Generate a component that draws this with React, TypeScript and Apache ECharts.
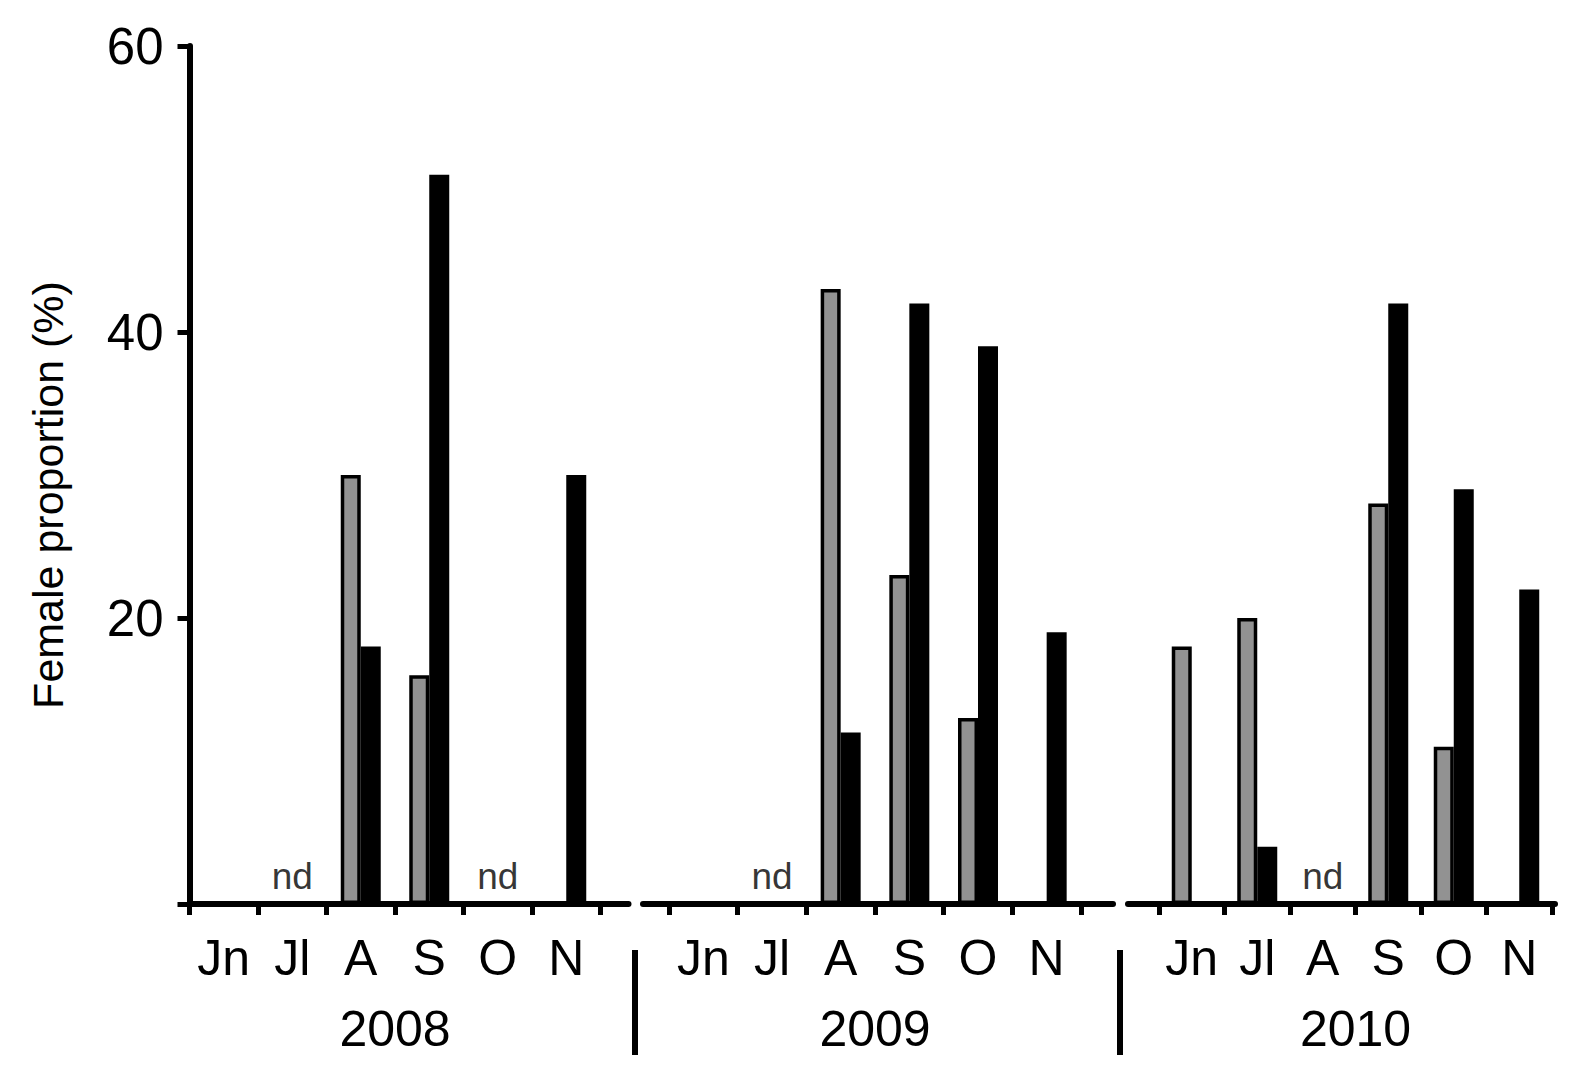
import React, { useEffect, useRef } from "react";
import * as echarts from "echarts";

// ---- data ----
const months = ["Jn", "Jl", "A", "S", "O", "N"];
const years = ["2008", "2009", "2010"];
const gray2008 = [null, null, 30, 16, null, null];
const black2008 = [null, null, 18, 51, null, 30];
const gray2009 = [null, null, 43, 23, 13, null];
const black2009 = [null, null, 12, 42, 39, 19];
const gray2010 = [18, 20, null, 28, 11, null];
const black2010 = [null, 4, null, 42, 29, 22];
const nd2008 = ["Jl", "O"];
const nd2009 = ["Jl"];
const nd2010 = ["A"];
const yTicks = [0, 20, 40, 60];

const grays = [gray2008, gray2009, gray2010];
const blacks = [black2008, black2009, black2010];
const nds = [nd2008, nd2009, nd2010];

// ---- layout ----
const W = 1575;
const H = 1072;
const TOP = 46;
const BASE = 904;
const AXW = 6;
const TKW = 5;
const panels = [
  { left: 189.5, width: 411, extL: 0, extR: 28 },
  { left: 669, width: 412, extL: 26, extR: 32 },
  { left: 1159, width: 393, extL: 31, extR: 3 },
];
const separators = [635, 1120];
const FONT = '"Liberation Sans", Arial, Helvetica, sans-serif';

export default function App() {
  const ref = useRef<HTMLDivElement>(null);
  useEffect(() => {
    if (!ref.current) return;
    const chart = echarts.init(ref.current, undefined, { renderer: "svg" });

    const grid: any[] = panels.map((p) => ({
      left: p.left,
      width: p.width,
      top: TOP,
      bottom: H - BASE,
      containLabel: false,
    }));
    // helper grids: full-length baseline of each panel
    panels.forEach((p) => {
      grid.push({
        left: p.left - p.extL,
        width: p.width + p.extL + p.extR,
        top: TOP,
        bottom: H - BASE,
        containLabel: false,
      });
    });

    const xAxis: any[] = panels.map((p, i) => ({
      type: "category",
      gridIndex: i,
      data: months,
      boundaryGap: true,
      name: years[i],
      nameLocation: "middle",
      nameGap: 100,
      nameTextStyle: { fontSize: 50, fontFamily: FONT, color: "#000" },
      axisLine: { show: true, lineStyle: { color: "#000", width: AXW } },
      axisTick: { show: true, interval: 0, length: 11, lineStyle: { color: "#000", width: TKW } },
      axisLabel: {
        show: true,
        interval: 0,
        margin: 29,
        fontSize: 50,
        fontFamily: FONT,
        color: "#000",
      },
      splitLine: { show: false },
      z: 3,
    }));
    panels.forEach((p, i) => {
      xAxis.push({
        type: "value",
        gridIndex: 3 + i,
        min: 0,
        max: 1,
        axisLine: { show: true, lineStyle: { color: "#000", width: AXW } },
        axisTick: { show: false },
        axisLabel: { show: false },
        splitLine: { show: false },
        z: 1,
      });
    });

    const yAxis: any[] = panels.map((p, i) => ({
      type: "value",
      gridIndex: i,
      min: 0,
      max: 60,
      interval: 20,
      show: i === 0,
      axisLine: { show: true, lineStyle: { color: "#000", width: AXW } },
      axisTick: { show: true, length: 12, lineStyle: { color: "#000", width: TKW } },
      axisLabel: {
        show: true,
        margin: 26,
        fontSize: 51,
        fontFamily: FONT,
        color: "#000",
        formatter: (v: number) => (yTicks.includes(v) && v !== 0 ? String(v) : ""),
      },
      splitLine: { show: false },
      z: 3,
    }));
    panels.forEach((p, i) => {
      yAxis.push({ type: "value", gridIndex: 3 + i, min: 0, max: 1, show: false });
    });

    const series: any[] = [];
    panels.forEach((p, i) => {
      series.push({
        type: "bar",
        xAxisIndex: i,
        yAxisIndex: i,
        data: grays[i],
        barWidth: 20,
        barGap: "0%",
        itemStyle: { color: "#929292", borderColor: "#000", borderWidth: 3.5 },
        z: 2,
      });
      series.push({
        type: "bar",
        xAxisIndex: i,
        yAxisIndex: i,
        data: blacks[i],
        barWidth: 20,
        barGap: "0%",
        itemStyle: { color: "#000" },
        z: 3,
      });
      series.push({
        type: "scatter",
        xAxisIndex: i,
        yAxisIndex: i,
        data: nds[i].map((m) => [m, 0]),
        symbolSize: 0,
        label: {
          show: true,
          position: "top",
          distance: 9,
          formatter: "nd",
          fontSize: 37,
          fontFamily: FONT,
          color: "#000",
        },
        z: 4,
      });
    });

    const graphic: any[] = [];
    separators.forEach((x) => {
      graphic.push({
        type: "rect",
        shape: { x: x - 3, y: 950, width: 6, height: 105 },
        style: { fill: "#000" },
      });
    });
    graphic.push({
      type: "text",
      x: 48,
      y: 495,
      rotation: Math.PI / 2,
      style: {
        text: "Female proportion (%)",
        fontSize: 43,
        fontFamily: FONT,
        fill: "#000",
        align: "center",
        verticalAlign: "middle",
      },
    });

    chart.setOption({
      animation: false,
      backgroundColor: "#fff",
      grid,
      xAxis,
      yAxis,
      series,
      graphic,
    });
    return () => chart.dispose();
  }, []);

  return (
    <div
      ref={ref}
      style={{ position: "fixed", left: 0, top: 0, width: W + "px", height: H + "px" }}
    />
  );
}
